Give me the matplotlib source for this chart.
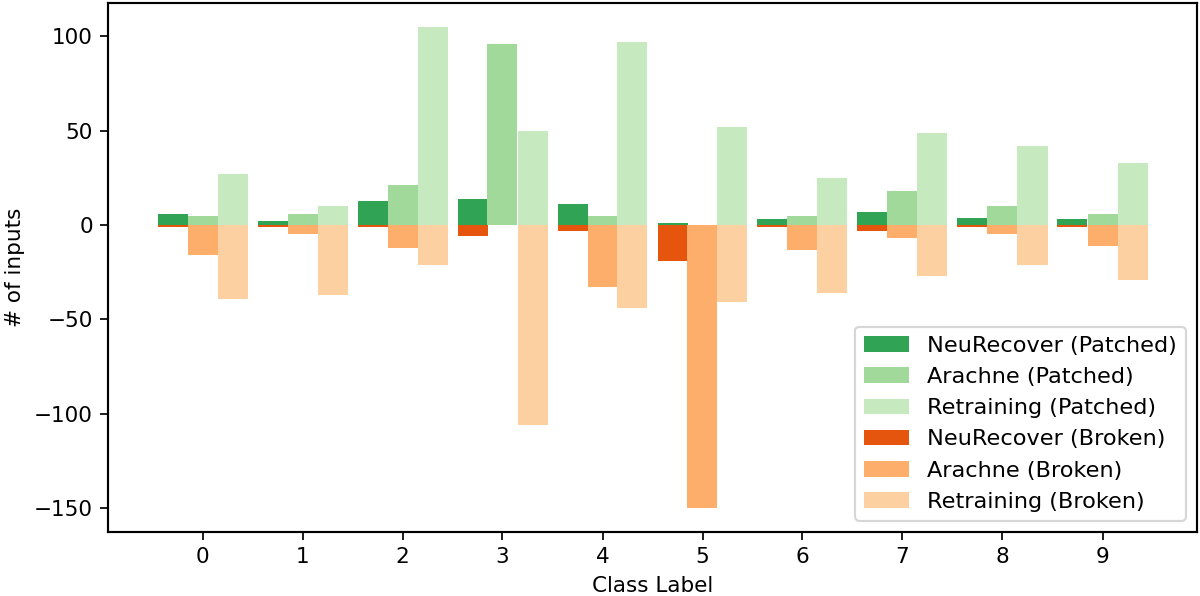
import numpy as np
import matplotlib
matplotlib.use("Agg")
import matplotlib.pyplot as plt

classes = [0, 1, 2, 3, 4, 5, 6, 7, 8, 9]

# inputs that became correct after repair (plotted upward)
neurecover_patched = [6, 2, 13, 14, 11, 1, 3, 7, 4, 3]
arachne_patched = [5, 6, 21, 96, 5, 0, 5, 18, 10, 6]
retraining_patched = [27, 10, 105, 50, 97, 52, 25, 49, 42, 33]

# inputs that became wrong after repair (plotted downward)
neurecover_broken = [1, 1, 1, 6, 3, 19, 1, 3, 1, 1]
arachne_broken = [16, 5, 12, 0, 33, 150, 13, 7, 5, 11]
retraining_broken = [39, 37, 21, 106, 44, 41, 36, 27, 21, 29]

methods = ["NeuRecover", "Arachne", "Retraining"]
greens = ["#31a354", "#a1d99b", "#c7e9c0"]
oranges = ["#e6550d", "#fdae6b", "#fdd0a2"]

dpi = 155
fig, ax = plt.subplots(figsize=(1200 / dpi, 596 / dpi), dpi=dpi)
fig.subplots_adjust(left=0.09, right=0.9975, top=0.995, bottom=0.1074)

x = np.arange(len(classes))
w = 0.3
patched = [neurecover_patched, arachne_patched, retraining_patched]
broken = [neurecover_broken, arachne_broken, retraining_broken]

for i, (name, vals) in enumerate(zip(methods, patched)):
    ax.bar(x + (i - 1) * w, vals, w, color=greens[i], label=name + " (Patched)")
for i, (name, vals) in enumerate(zip(methods, broken)):
    ax.bar(x + (i - 1) * w, -np.array(vals), w, color=oranges[i], label=name + " (Broken)")

ax.set_xticks(x)
ax.set_xticklabels([str(c) for c in classes])
ax.set_xlabel("Class Label")
ax.set_ylabel("# of inputs")
for s in ax.spines.values():
    s.set_linewidth(1.0)
ax.legend(loc="lower right", fontsize=10.4)

fig.savefig("out.png")
